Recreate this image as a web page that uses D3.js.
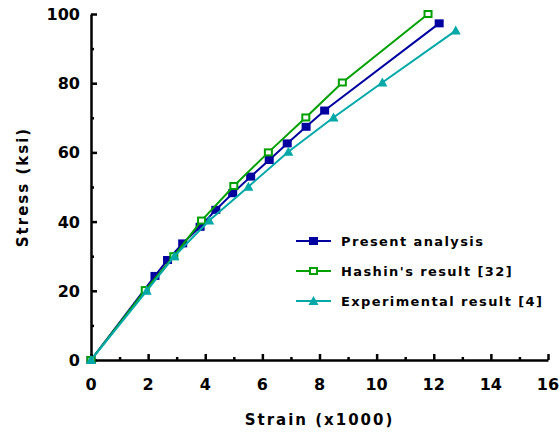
<!DOCTYPE html>
<html>
<head>
<meta charset="utf-8">
<script src="https://cdn.jsdelivr.net/npm/d3@7"></script>
<style>
  body { margin: 0; background: #fff; }
  svg { display: block; }
</style>
</head>
<body>
<div id="chart"></div>
<script>
// values
const presentStrain = [0, 2.24, 2.68, 3.21, 3.82, 4.37, 4.96, 5.59, 6.24, 6.87, 7.53, 8.18, 12.19]
const presentStress = [0, 24.3, 28.9, 33.7, 38.5, 43.4, 48.2, 53.0, 57.8, 62.6, 67.4, 72.1, 97.3]
const hashinStrain = [0, 1.9, 2.9, 3.87, 5.0, 6.21, 7.52, 8.8, 11.8]
const hashinStress = [0, 20.2, 30, 40.3, 50.3, 60, 70.1, 80.2, 100]
const expStrain = [0, 1.95, 2.92, 4.14, 5.51, 6.91, 8.49, 10.2, 12.77]
const expStress = [0, 20, 30, 40.3, 50.1, 60.2, 70.1, 80.2, 95.2]
const xTicks = [0, 2, 4, 6, 8, 10, 12, 14, 16]
const yTicks = [0, 20, 40, 60, 80, 100]
const seriesNames = ['Present analysis', "Hashin's result [32]", 'Experimental result [4]']

const W = 560, H = 435
const margin = { top: 14, right: 12, bottom: 75, left: 91 }
const font = 'DejaVu Sans, Verdana, sans-serif'

const svg = d3.select('#chart').append('svg')
  .attr('width', W).attr('height', H)

const x = d3.scaleLinear().domain([0, 16]).range([margin.left, W - margin.right])
const y = d3.scaleLinear().domain([0, 100]).range([H - margin.bottom, margin.top])

// axes, ticks pointing inward
const xAxis = svg.append('g')
  .attr('transform', `translate(0,${y(0)})`)
  .call(d3.axisTop(x).tickValues(d3.range(0, 17, 1)).tickSize(5).tickFormat('').tickSizeOuter(0))
xAxis.selectAll('.tick line').attr('y2', d => d % 2 === 0 ? -6 : -3)

const yAxis = svg.append('g')
  .attr('transform', `translate(${x(0)},0)`)
  .call(d3.axisRight(y).tickValues(d3.range(0, 101, 10)).tickSize(5).tickFormat('').tickSizeOuter(0))
yAxis.selectAll('.tick line').attr('x2', d => d % 20 === 0 ? 6 : 3)

svg.selectAll('.domain').attr('stroke', '#000').attr('stroke-width', 2.5)
svg.selectAll('.tick line').attr('stroke', '#000').attr('stroke-width', 2.5)

// tick labels
svg.append('g').selectAll('text').data(xTicks).join('text')
  .attr('x', d => x(d)).attr('y', y(0) + 30)
  .attr('text-anchor', 'middle')
  .style('font-family', font).style('font-size', '16px').style('font-weight', 'bold')
  .text(d => d)

svg.append('g').selectAll('text').data(yTicks).join('text')
  .attr('x', x(0) - 11).attr('y', d => y(d) + 6)
  .attr('text-anchor', 'end')
  .style('font-family', font).style('font-size', '16px').style('font-weight', 'bold')
  .text(d => d)

// axis titles
svg.append('text')
  .attr('x', (x(0) + x(16)) / 2).attr('y', 425)
  .attr('text-anchor', 'middle')
  .style('font-family', font).style('font-size', '15px').style('font-weight', 'bold')
  .style('letter-spacing', '2px')
  .text('Strain (x1000)')

svg.append('text')
  .attr('transform', `translate(28,${(y(0) + y(100)) / 2}) rotate(-90)`)
  .attr('text-anchor', 'middle')
  .style('font-family', font).style('font-size', '15px').style('font-weight', 'bold')
  .style('letter-spacing', '2px')
  .text('Stress (ksi)')

// series
const series = [
  { name: seriesNames[0], xs: presentStrain, ys: presentStress, color: '#0000a0', marker: 'square' },
  { name: seriesNames[1], xs: hashinStrain, ys: hashinStress, color: '#00a000', marker: 'open' },
  { name: seriesNames[2], xs: expStrain, ys: expStress, color: '#00a8a8', marker: 'triangle' },
]

const line = d3.line().x(d => x(d[0])).y(d => y(d[1]))

function drawMarker(g, type, color, cx, cy) {
  if (type === 'square') {
    g.append('rect').attr('x', cx - 4.5).attr('y', cy - 4).attr('width', 9).attr('height', 8)
      .attr('fill', color)
  } else if (type === 'open') {
    g.append('rect').attr('x', cx - 3.5).attr('y', cy - 3).attr('width', 7).attr('height', 6)
      .attr('fill', '#fff').attr('stroke', color).attr('stroke-width', 2)
  } else {
    g.append('path')
      .attr('d', `M${cx},${cy - 5}L${cx + 5},${cy + 4}L${cx - 5},${cy + 4}Z`)
      .attr('fill', color)
  }
}

series.forEach(s => {
  const pts = s.xs.map((v, i) => [v, s.ys[i]])
  svg.append('path').datum(pts)
    .attr('d', line)
    .attr('fill', 'none').attr('stroke', s.color).attr('stroke-width', 2)
  const g = svg.append('g')
  pts.forEach(p => drawMarker(g, s.marker, s.color, x(p[0]), y(p[1])))
})

// legend
const legend = svg.append('g')
series.forEach((s, i) => {
  const ly = 241 + i * 30
  legend.append('line').attr('x1', 296).attr('x2', 331).attr('y1', ly).attr('y2', ly)
    .attr('stroke', s.color).attr('stroke-width', 2)
  drawMarker(legend, s.marker, s.color, 313.5, ly)
  legend.append('text').attr('x', 341).attr('y', ly + 5)
    .style('font-family', font).style('font-size', '13px').style('font-weight', 'bold')
    .style('letter-spacing', '1.4px')
    .text(s.name)
})
</script>
</body>
</html>
